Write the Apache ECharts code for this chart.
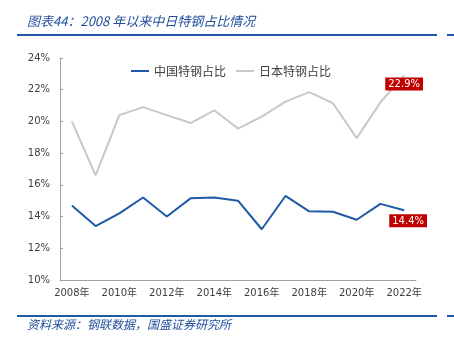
<!DOCTYPE html>
<html>
<head>
<meta charset="utf-8">
<script src="https://cdn.jsdelivr.net/npm/echarts@6/dist/echarts.min.js"></script>
<style>
    html, body { margin: 0; padding: 0; background: #fff; }
    #main { width: 454px; height: 352px; }
</style>
</head>
<body>
<div id="main"></div>
<script>
var years = ['2008年', '2009年', '2010年', '2011年', '2012年', '2013年', '2014年', '2015年',
    '2016年', '2017年', '2018年', '2019年', '2020年', '2021年', '2022年'];
var chinaShare = [14.7, 13.4, 14.2, 15.2, 14.0, 15.15, 15.2, 15.0, 13.2, 15.3, 14.33, 14.3, 13.8, 14.8, 14.4];
var japanShare = [20.0, 16.6, 20.4, 20.9, 20.4, 19.9, 20.7, 19.55, 20.3, 21.25, 21.85, 21.15, 18.95, 21.2, 22.9];
var seriesNames = ['中国特钢占比', '日本特钢占比'];

(function () {
    var myChart = echarts.init(document.getElementById('main'));
    var blue = '#1f5aa6';
    var grey = '#c8c8c8';
    var cjk = '"Noto Sans CJK SC", "DejaVu Sans", sans-serif';
    var titleColor = '#1f4e9c';

    // only the last point of each line carries a red value box
    function withEndLabel(values, offset) {
        return values.map(function (v, i) {
            if (i !== values.length - 1) return v;
            return {
                value: v,
                label: {
                    show: true,
                    position: 'bottom',
                    distance: 3,
                    offset: offset,
                    formatter: v.toFixed(1) + '%',
                    backgroundColor: '#c00000',
                    color: '#fff',
                    fontSize: 10,
                    fontFamily: 'Tahoma, "DejaVu Sans", sans-serif',
                    padding: [2, 3, 1, 3]
                }
            };
        });
    }

    var option = {
        animation: false,
        graphic: [
            {
                type: 'text', left: 27, top: 15,
                style: {
                    text: '图表44：2008 年以来中日特钢占比情况',
                    fill: titleColor, font: 'italic 13px ' + cjk
                }
            },
            { type: 'rect', shape: { x: 17, y: 34, width: 420, height: 2 }, style: { fill: blue } },
            { type: 'rect', shape: { x: 447, y: 34, width: 7, height: 2 }, style: { fill: blue } },
            { type: 'rect', shape: { x: 17, y: 315, width: 420, height: 2 }, style: { fill: blue } },
            { type: 'rect', shape: { x: 447, y: 315, width: 7, height: 2 }, style: { fill: blue } },
            {
                type: 'text', left: 27, top: 318,
                style: {
                    text: '资料来源：钢联数据，国盛证券研究所',
                    fill: titleColor, font: 'italic 12px ' + cjk
                }
            }
        ],
        legend: {
            top: 60,
            left: 126,
            itemWidth: 18,
            itemHeight: 2,
            itemGap: 10,
            icon: 'rect',
            textStyle: { fontSize: 12, color: '#404040', fontFamily: cjk },
            data: seriesNames
        },
        grid: { left: 60, right: 38, top: 58, bottom: 72 },
        xAxis: {
            type: 'category',
            data: years,
            boundaryGap: true,
            axisLine: { lineStyle: { color: '#a0a0a0' } },
            axisTick: { inside: true, length: 3, interval: 1, lineStyle: { color: '#a0a0a0' } },
            axisLabel: {
                interval: 1, margin: 8, fontSize: 10, color: '#404040',
                fontFamily: 'Tahoma, "DejaVu Sans", ' + cjk
            }
        },
        yAxis: {
            type: 'value',
            min: 10, max: 24, interval: 2,
            splitLine: { show: false },
            axisLine: { show: true, lineStyle: { color: '#a0a0a0' } },
            axisTick: { show: true, inside: true, length: 3, lineStyle: { color: '#a0a0a0' } },
            axisLabel: {
                formatter: '{value}%', margin: 10, fontSize: 10, color: '#404040',
                fontFamily: 'Tahoma, "DejaVu Sans", sans-serif'
            }
        },
        series: [
            {
                name: seriesNames[0],
                type: 'line',
                data: withEndLabel(chinaShare, [4, 1]),
                symbol: 'circle',
                symbolSize: 0,
                showSymbol: true,
                lineStyle: { color: blue, width: 2 },
                itemStyle: { color: blue },
                z: 3
            },
            {
                name: seriesNames[1],
                type: 'line',
                data: withEndLabel(japanShare, [0, -1]),
                symbol: 'circle',
                symbolSize: 0,
                showSymbol: true,
                lineStyle: { color: grey, width: 2 },
                itemStyle: { color: grey },
                z: 2
            }
        ]
    };
    myChart.setOption(option);
})();
</script>
</body>
</html>
